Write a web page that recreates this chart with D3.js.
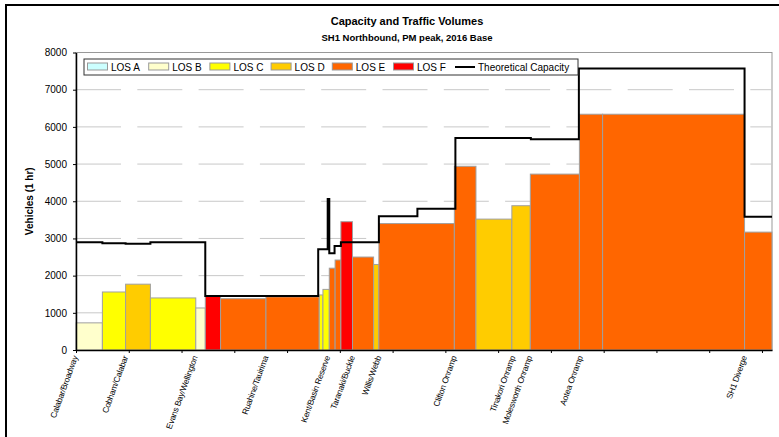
<!DOCTYPE html>
<html>
<head>
<meta charset="utf-8">
<script src="https://cdn.jsdelivr.net/npm/d3@7"></script>
<style>
  body { margin: 0; background: #fff; }
  svg { font-family: Arial, 'Liberation Sans', sans-serif; }
</style>
</head>
<body>
<svg id="chart" width="779" height="437"></svg>
<script>
// segment boundaries along the route (km) - one more entry than segments
const segBreaks = [0, 0.50, 0.94, 1.41, 2.27, 2.45, 2.74, 3.60, 4.61, 4.68, 4.80, 4.91, 5.02,
                   5.24, 5.64, 5.74, 7.17, 7.58, 8.26, 8.61, 9.54, 9.98, 12.67, 13.19];
// traffic volume per segment (veh/hr)
const volumes = [730, 1560, 1770, 1400, 1130, 1450, 1380, 1430, 1480, 1630, 2200, 2420, 3450,
                 2500, 2300, 3400, 4940, 3520, 3880, 4730, 6340, 6340, 3170];
// level of service per segment
const losBand = ['B', 'C', 'D', 'C', 'B', 'F', 'E', 'E', 'C', 'C', 'E', 'E', 'F',
                 'E', 'D', 'E', 'E', 'D', 'D', 'E', 'E', 'E', 'E'];

// theoretical capacity, step after each x
const capX = [0, 0.50, 0.94, 1.41, 2.45, 4.59, 4.77, 4.80, 4.90, 5.02, 5.74, 6.47, 7.19, 8.62, 9.53, 12.67, 13.19];
const capV = [2900, 2870, 2860, 2900, 1450, 2710, 4060, 2600, 2800, 2900, 3600, 3800, 5700, 5670, 7570, 3580, 3580];

// location labels
const locNames = ['Calabar/Broadway', 'Cobham/Calabar', 'Evans Bay/Wellington', 'Ruahine/Tauirima',
                  'Kent/Basin Reserve', 'Taranaki/Buckle', 'Willis/Webb', 'Clifton Onramp',
                  'Tinakori Onramp', 'Molesworth Onramp', 'Aotea Onramp', 'SH1 Diverge'];
const locX = [0, 0.95, 2.27, 3.61, 4.78, 5.25, 5.75, 7.18, 8.29, 8.61, 9.57, 12.68];

const losNames = ['A', 'B', 'C', 'D', 'E', 'F'];
const losColors = ['#ccffff', '#ffffcc', '#ffff00', '#ffcc00', '#ff6600', '#ff0000'];
const yTicks = [0, 1000, 2000, 3000, 4000, 5000, 6000, 7000, 8000];

const svg = d3.select('#chart');
const width = +svg.attr('width');
const height = +svg.attr('height');

const margin = { top: 52.5, right: 7, bottom: 87, left: 76 };
const innerWidth = width - margin.left - margin.right;
const innerHeight = height - margin.top - margin.bottom;

const color = d3.scaleOrdinal().domain(losNames).range(losColors);

const xScale = d3.scaleLinear().domain([0, 13.19]).range([0, innerWidth]);
const yScale = d3.scaleLinear().domain([0, 8000]).range([innerHeight, 0]);

// outer chart frame (only left and top edges are inside the picture)
svg.append('path')
    .attr('d', 'M6,' + height + 'V5H' + width)
    .attr('fill', 'none')
    .attr('stroke', '#000')
    .attr('stroke-width', 2);

// titles
svg.append('text')
    .attr('x', 407).attr('y', 25)
    .attr('text-anchor', 'middle')
    .style('font-weight', 'bold')
    .style('font-size', '11px')
    .text('Capacity and Traffic Volumes');

svg.append('text')
    .attr('x', 407).attr('y', 41)
    .attr('text-anchor', 'middle')
    .style('font-weight', 'bold')
    .style('font-size', '9.5px')
    .text('SH1 Northbound, PM peak, 2016 Base');

const g = svg.append('g')
    .attr('transform', 'translate(' + margin.left + ',' + margin.top + ')');

// plot area border (top + right show)
g.append('rect')
    .attr('width', innerWidth)
    .attr('height', innerHeight)
    .attr('fill', 'none')
    .attr('stroke', '#999')
    .attr('stroke-width', 1);

// gridlines
g.selectAll('.grid')
    .data(yTicks.filter(d => d > 0 && d < 8000))
    .enter()
    .append('line')
    .attr('x1', 0).attr('x2', innerWidth)
    .attr('y1', d => yScale(d)).attr('y2', d => yScale(d))
    .attr('stroke', '#c8c8c8')
    .attr('stroke-width', 1)
    .attr('stroke-dasharray', '45,16.3');

// volume segments
const segs = volumes.map((v, i) => ({ x0: segBreaks[i], x1: segBreaks[i + 1], v: v, los: losBand[i] }));

g.selectAll('.seg')
    .data(segs)
    .enter()
    .append('rect')
    .attr('x', d => xScale(d.x0))
    .attr('width', d => xScale(d.x1) - xScale(d.x0))
    .attr('y', d => yScale(d.v))
    .attr('height', d => innerHeight - yScale(d.v))
    .attr('fill', d => color(d.los))
    .attr('stroke', '#a0a0a0')
    .attr('stroke-width', 1);

// capacity step line
const capLine = d3.line()
    .x(d => xScale(d[0]))
    .y(d => yScale(d[1]))
    .curve(d3.curveStepAfter);

g.append('path')
    .datum(capX.map((x, i) => [x, capV[i]]))
    .attr('d', capLine)
    .attr('fill', 'none')
    .attr('stroke', '#000')
    .attr('stroke-width', 2);

// axes
const yAxis = g.append('g')
    .call(d3.axisLeft(yScale).tickValues(yTicks).tickFormat(d3.format('d'))
      .tickSize(3).tickPadding(6).tickSizeOuter(0));
yAxis.selectAll('text').style('font-size', '10px').attr('fill', '#000');

const xAxis = g.append('g')
    .attr('transform', 'translate(0,' + innerHeight + ')')
    .call(d3.axisBottom(xScale).tickValues(d3.range(0, 14)).tickSize(3).tickSizeOuter(0).tickFormat(''));

[yAxis, xAxis].forEach(a => {
  a.select('.domain').attr('stroke', '#000').attr('stroke-width', 1.5);
  a.selectAll('line').attr('stroke', '#000');
});

// y axis label
g.append('text')
    .attr('transform', 'rotate(-90)')
    .attr('x', -innerHeight / 2)
    .attr('y', -43)
    .attr('text-anchor', 'middle')
    .style('font-weight', 'bold')
    .style('font-size', '10px')
    .text('Vehicles (1 hr)');

// location labels
g.selectAll('.loc')
    .data(locNames)
    .enter()
    .append('text')
    .attr('transform', (d, i) => 'translate(' + (xScale(locX[i]) + 2) + ',' + (innerHeight + 7) + ') rotate(-70)')
    .attr('text-anchor', 'end')
    .style('font-size', '8.4px')
    .style('letter-spacing', '-0.2px')
    .text(d => d);

// legend
const legend = svg.append('g').attr('transform', 'translate(84,59)');
legend.append('rect')
    .attr('width', 494).attr('height', 16)
    .attr('fill', '#fff')
    .attr('stroke', '#333')
    .attr('stroke-width', 1);

const items = legend.selectAll('.item')
    .data(losNames)
    .enter()
    .append('g')
    .attr('transform', (d, i) => 'translate(' + (3.5 + i * 61.2) + ',0)');

items.append('rect')
    .attr('y', 4).attr('width', 20).attr('height', 7)
    .attr('fill', d => color(d))
    .attr('stroke', '#999');

items.append('text')
    .attr('x', 23.5).attr('y', 11.5)
    .style('font-size', '10px')
    .text(d => 'LOS ' + d);

legend.append('line')
    .attr('x1', 371).attr('x2', 391)
    .attr('y1', 8).attr('y2', 8)
    .attr('stroke', '#000')
    .attr('stroke-width', 2);

legend.append('text')
    .attr('x', 394).attr('y', 11.5)
    .style('font-size', '10px')
    .text('Theoretical Capacity');
</script>
</body>
</html>
